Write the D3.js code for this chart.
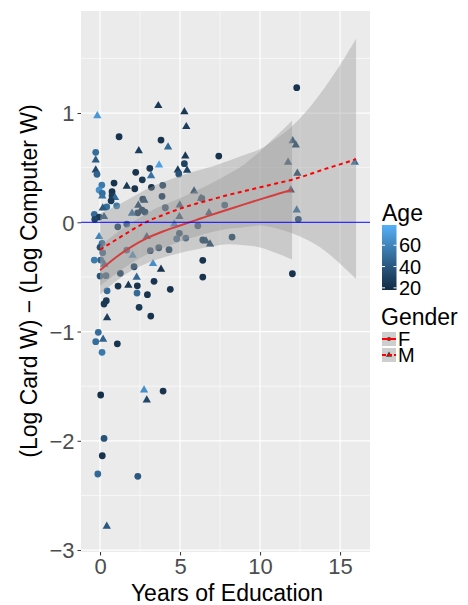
<!DOCTYPE html>
<html>
<head>
<meta charset="utf-8">
<script src="https://cdn.jsdelivr.net/npm/d3@7"></script>
<style>
  body { margin: 0; background: #fff; }
  text { font-family: "Liberation Sans", Arial, sans-serif; }
</style>
</head>
<body>
<div id="chart"></div>
<script>
// points
var ptX = [-0.17,3.64,5.27,5.39,1.19,3.81,-0.27,-0.27,2.42,4.25,5.33,5.27,3.69,-0.27,-0.19,2.23,3.19,3.11,4.86,5.44,
           4.92,2.64,0.875,0.11,-0.06,0.75,1.67,2.17,3.21,3.92,5.875,0.14,0.14,0.75,0.94,0.69,1.04,0.42,0.17,3.875,
           2.67,2.77,2.39,2.625,2.36,4.08,2.81,2.0,4.98,4.96,-0.36,-0.06,-0.33,0.25,1.11,1.67,6.11,4.96,5.36,4.79,
           2.92,-0.06,0.125,0.0,0.17,-0.36,0.04,0.27,1.67,2.04,3.14,3.67,4.31,3.31,2.125,1.27,0.0,0.375,3.81,2.29,
           1.125,1.77,2.33,3.375,4.39,0.44,2.31,2.96,0.39,0.25,2.44,3.17,0.44,-0.11,0.19,-0.27,1.08,0.125,2.75,2.92,
           3.94,0.04,0.25,0.14,-0.14,2.36,0.42,7.42,6.31,7.79,6.81,4.64,8.25,6.42,6.625,6.875,6.42,6.42,12.29,12.04,
           12.23,11.75,15.92,12.33,11.92,12.29,12.39,12.02,6.36];
var ptY = [0.975,1.067,1.012,0.875,0.783,0.753,0.64,0.57,0.655,0.689,0.606,0.536,0.524,0.478,0.439,0.457,0.426,0.494,0.478,0.476,
           0.442,0.389,0.359,0.341,0.295,0.28,0.329,0.307,0.32,0.338,0.286,0.265,0.24,0.243,0.225,0.197,0.151,0.142,0.13,0.238,
           0.213,0.201,0.155,0.112,0.087,0.133,0.094,0.082,0.158,0.051,0.073,0.048,0.027,0.051,-0.041,-0.016,-0.032,-0.101,-0.144,-0.151,
           -0.132,-0.132,-0.193,-0.229,-0.279,-0.346,-0.346,-0.385,-0.254,-0.303,-0.26,-0.233,-0.251,-0.379,-0.407,-0.467,-0.492,-0.489,-0.431,-0.504,
           -0.584,-0.577,-0.581,-0.54,-0.614,-0.627,-0.648,-0.663,-0.718,-0.748,-0.778,-0.858,-0.874,-1.007,-1.071,-1.093,-1.112,-1.19,-1.535,-1.627,
           -1.545,-1.581,-1.978,-2.137,-2.304,-2.325,-2.783,0.606,0.219,0.158,0.087,-0.016,-0.135,-0.162,-0.172,-0.199,-0.348,-0.501,1.232,0.746,
           0.707,0.549,0.549,0.448,0.295,0.112,0.027,-0.471,0.219];
var ptAge = [68,25,25,28,22,22,50,42,28,48,25,30,72,32,45,22,52,25,28,30,
             38,25,22,55,65,22,25,22,22,30,30,50,52,25,48,25,55,50,40,28,
             25,30,30,28,28,30,30,50,32,32,50,25,30,40,30,38,30,30,40,42,
             30,60,50,35,40,55,45,40,45,62,30,30,30,65,32,30,38,40,22,48,
             22,25,22,22,22,48,48,22,25,25,25,22,28,50,45,50,22,55,65,32,
             22,20,38,22,48,40,40,22,32,35,32,55,30,30,30,30,22,22,22,35,
             30,32,50,30,30,50,35,22,28];
var ptGender = ["M","M","M","M","F","F","F","M","M","M","M","F","M","M","F","F","M","F","M","M",
                "F","F","F","F","F","F","M","F","F","F","M","F","M","F","M","F","F","F","M","F",
                "F","M","M","F","F","F","F","M","M","M","F","F","F","M","F","F","F","F","F","F",
                "M","M","F","F","F","F","F","M","F","M","F","F","F","M","F","F","F","F","M","M",
                "F","M","F","F","F","F","F","F","F","F","F","F","M","F","M","F","F","F","M","M",
                "F","F","F","F","F","F","M","F","M","F","M","M","F","F","M","M","F","F","F","M",
                "M","M","M","M","M","M","F","F","F"];

// loess fits and bands
var fitXF = [0,1,2,3,4,5,6,7,8,9,10,11,12];
var fitF  = [-0.44,-0.32,-0.22,-0.14,-0.08,-0.03,0.02,0.07,0.117,0.164,0.21,0.255,0.295];
var lowF  = [-0.66,-0.54,-0.44,-0.37,-0.32,-0.28,-0.25,-0.22,-0.20,-0.21,-0.23,-0.28,-0.34];
var upF   = [-0.22,-0.10,0.00,0.09,0.16,0.22,0.29,0.36,0.44,0.53,0.65,0.79,0.93];
var fitXM = [0,1,2,3,4,5,6,7,8,9,10,11,12,13,14,15,16];
var fitM  = [-0.25,-0.16,-0.07,0.01,0.07,0.125,0.17,0.21,0.25,0.285,0.32,0.355,0.39,0.435,0.485,0.53,0.578];
var lowM  = [-0.58,-0.47,-0.37,-0.29,-0.23,-0.175,-0.13,-0.09,-0.06,-0.045,-0.03,-0.055,-0.10,-0.165,-0.255,-0.38,-0.52];
var upM   = [0.08,0.15,0.23,0.31,0.37,0.425,0.47,0.51,0.56,0.615,0.67,0.765,0.88,1.035,1.225,1.44,1.68];

var xTicks = [0,5,10,15];
var xMinor = [2.5,7.5,12.5];
var yTicks = [-3,-2,-1,0,1];
var yMinor = [-2.5,-1.5,-0.5,0.5,1.5];
var ageTicks = [20,40,60];
var genders = ["F","M"];

var W = 468, H = 605;
var svg = d3.select("#chart").append("svg").attr("width", W).attr("height", H);

var x = d3.scaleLinear().domain([-1.19, 16.87]).range([81, 370]);
var y = d3.scaleLinear().domain([-3.018, 1.934]).range([552, 11]);
var col = d3.scaleLinear().domain([18, 79]).range(["#132B43", "#56B1F7"]).interpolate(d3.interpolateLab);

svg.append("clipPath").attr("id", "panel")
   .append("rect").attr("x", 81).attr("y", 11).attr("width", 289).attr("height", 541);

// panel + grid
svg.append("rect").attr("x", 81).attr("y", 11).attr("width", 289).attr("height", 541).attr("fill", "#EBEBEB");
var grid = svg.append("g");
grid.selectAll(".vmin").data(xMinor).enter().append("line")
    .attr("x1", d => x(d)).attr("x2", d => x(d)).attr("y1", 11).attr("y2", 552)
    .attr("stroke", "#fff").attr("stroke-width", 0.6);
grid.selectAll(".hmin").data(yMinor).enter().append("line")
    .attr("y1", d => y(d)).attr("y2", d => y(d)).attr("x1", 81).attr("x2", 370)
    .attr("stroke", "#fff").attr("stroke-width", 0.6);
grid.selectAll(".vmaj").data(xTicks).enter().append("line")
    .attr("x1", d => x(d)).attr("x2", d => x(d)).attr("y1", 11).attr("y2", 552)
    .attr("stroke", "#fff").attr("stroke-width", 1.2);
grid.selectAll(".hmaj").data(yTicks).enter().append("line")
    .attr("y1", d => y(d)).attr("y2", d => y(d)).attr("x1", 81).attr("x2", 370)
    .attr("stroke", "#fff").attr("stroke-width", 1.2);

var plot = svg.append("g").attr("clip-path", "url(#panel)");

// points
var pts = ptX.map((v, i) => ({x: v, y: ptY[i], age: ptAge[i], g: ptGender[i]}));
plot.selectAll(".pt").data(pts).enter().append("path")
    .attr("transform", d => "translate(" + x(d.x) + "," + y(d.y) + ")")
    .attr("d", d => d.g == "F" ? d3.symbol(d3.symbolCircle, 36)() : d3.symbol(d3.symbolTriangle, 30)())
    .attr("fill", d => col(d.age));

// smooths: F band, F line, M band, M line
function band(xs, lo, hi) {
  return d3.area().x((d, i) => x(xs[i])).y0((d, i) => y(lo[i])).y1((d, i) => y(hi[i]))
           .curve(d3.curveMonotoneX)(xs);
}
function fitLine(xs, f) {
  return d3.line().x((d, i) => x(xs[i])).y((d, i) => y(f[i])).curve(d3.curveMonotoneX)(xs);
}
plot.append("path").attr("d", band(fitXF, lowF, upF)).attr("fill", "#999999").attr("fill-opacity", 0.4);
plot.append("path").attr("d", fitLine(fitXF, fitF)).attr("fill", "none").attr("stroke", "red").attr("stroke-width", 2);
plot.append("path").attr("d", band(fitXM, lowM, upM)).attr("fill", "#999999").attr("fill-opacity", 0.4);
plot.append("path").attr("d", fitLine(fitXM, fitM)).attr("fill", "none").attr("stroke", "red").attr("stroke-width", 2)
    .attr("stroke-dasharray", "4,3.5");

// zero line
plot.append("line").attr("x1", 81).attr("x2", 370).attr("y1", y(0)).attr("y2", y(0))
    .attr("stroke", "blue").attr("stroke-width", 1);

// axes
var xAxis = svg.append("g").attr("transform", "translate(0,552)")
    .call(d3.axisBottom(x).tickValues(xTicks).tickSize(3.5).tickPadding(3));
var yAxis = svg.append("g").attr("transform", "translate(81,0)")
    .call(d3.axisLeft(y).tickValues(yTicks).tickSize(3.5).tickPadding(3).tickFormat(d => d < 0 ? "\u2212" + (-d) : d));
[xAxis, yAxis].forEach(a => {
  a.select(".domain").remove();
  a.selectAll(".tick line").attr("stroke", "#333333");
  a.selectAll(".tick text").attr("fill", "#4D4D4D").style("font-size", "22px")
   .style("font-family", "Liberation Sans, Arial, sans-serif");
});
yAxis.selectAll(".tick text").attr("dy", "0.36em");

svg.append("text").attr("x", 227).attr("y", 601).attr("text-anchor", "middle")
   .style("font-size", "23px").text("Years of Education");
svg.append("text").attr("transform", "translate(37,281) rotate(-90)").attr("text-anchor", "middle")
   .style("font-size", "23px").text("(Log Card W) \u2212 (Log Computer W)");

// Age legend
svg.append("text").attr("x", 382).attr("y", 221).style("font-size", "23px").text("Age");
var ageY = d3.scaleLinear().domain([18, 79]).range([290, 225]);
var grad = svg.append("defs").append("linearGradient").attr("id", "ageGrad")
   .attr("x1", 0).attr("y1", 1).attr("x2", 0).attr("y2", 0);
grad.selectAll("stop").data(d3.range(0, 1.001, 0.1)).enter().append("stop")
   .attr("offset", d => d).attr("stop-color", d => col(18 + d * 61));
svg.append("rect").attr("x", 382).attr("y", 225).attr("width", 14.5).attr("height", 65).attr("fill", "url(#ageGrad)");
ageTicks.forEach(a => {
  svg.append("line").attr("x1", 382).attr("x2", 385).attr("y1", ageY(a)).attr("y2", ageY(a)).attr("stroke", "#fff");
  svg.append("line").attr("x1", 393.5).attr("x2", 396.5).attr("y1", ageY(a)).attr("y2", ageY(a)).attr("stroke", "#fff");
  svg.append("text").attr("x", 399).attr("y", ageY(a)).attr("dy", "0.36em").style("font-size", "20px").text(a);
});

// Gender legend
svg.append("text").attr("x", 381).attr("y", 325).style("font-size", "23px").text("Gender");
genders.forEach((g, i) => {
  var ky = 332 + i * 16;
  var k = svg.append("g").attr("transform", "translate(382," + ky + ")");
  k.append("rect").attr("width", 14).attr("height", 14).attr("fill", "#F2F2F2");
  k.append("path").attr("transform", "translate(7,7)")
   .attr("d", g == "F" ? d3.symbol(d3.symbolCircle, 14)() : d3.symbol(d3.symbolTriangle, 16)())
   .attr("fill", "#000");
  k.append("rect").attr("width", 14).attr("height", 14).attr("fill", "#999999").attr("fill-opacity", 0.4);
  k.append("line").attr("x1", 0).attr("x2", 14).attr("y1", 7).attr("y2", 7).attr("stroke", "red")
   .attr("stroke-width", 2).attr("stroke-dasharray", g == "M" ? "4,2" : null);
  svg.append("text").attr("x", 398).attr("y", ky + 7).attr("dy", "0.36em").style("font-size", "20px").text(g);
});
</script>
</body>
</html>
